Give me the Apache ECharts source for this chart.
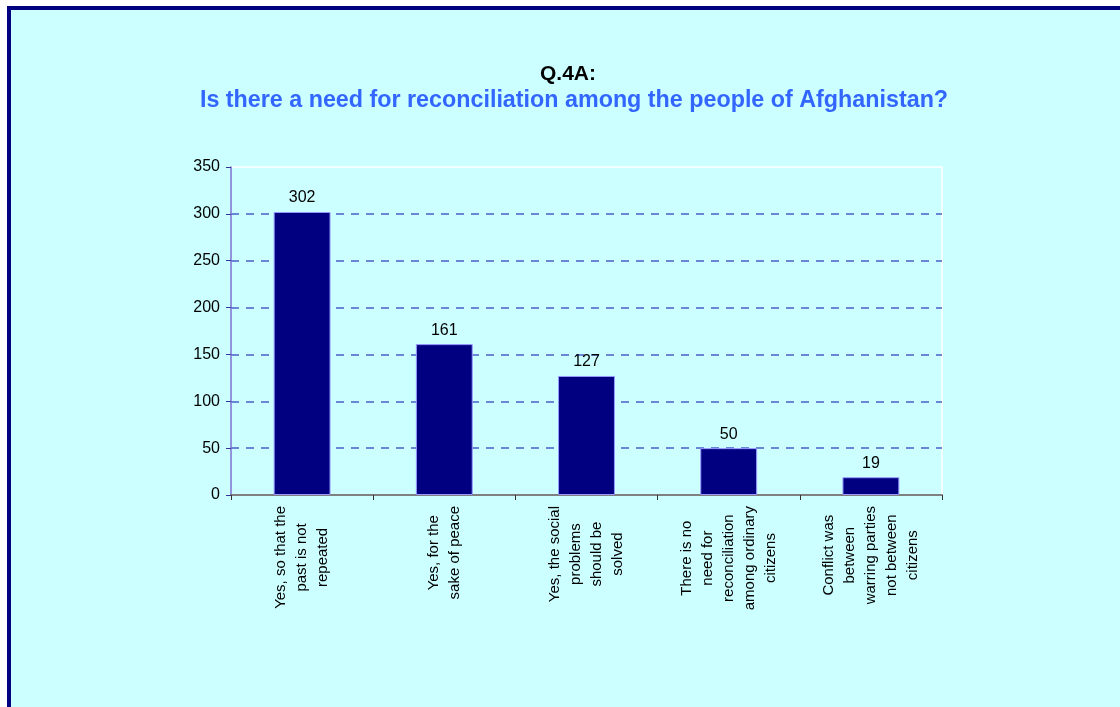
<!DOCTYPE html>
<html>
<head>
<meta charset="utf-8">
<script src="https://cdn.jsdelivr.net/npm/echarts@6/dist/echarts.min.js"></script>
<style>
  html, body { margin: 0; padding: 0; background: #fff; }
  #box {
    position: absolute; left: 7px; top: 6px; width: 1113px; height: 701px;
    box-sizing: border-box; background: #ccffff;
    border-top: 4px solid #000080; border-left: 4px solid #000080;
  }
  #chart { position: absolute; left: 0; top: 0; width: 1120px; height: 707px; }
</style>
</head>
<body>
<div id="box"></div>
<div id="chart"></div>
<script>
// categories, one entry per line of the rotated label
const categories = [
    ['Yes, so that the', 'past is not', 'repeated'],
    ['Yes, for the', 'sake of peace'],
    ['Yes, the social', 'problems', 'should be', 'solved'],
    ['There is no', 'need for', 'reconciliation', 'among ordinary', 'citizens'],
    ['Conflict was', 'between', 'warring parties', 'not between', 'citizens']
]
const counts = [302, 161, 127, 50, 19]
const yTicks = {min: 0, max: 350, step: 50}

const font = 'Liberation Sans, Arial, sans-serif'
const chart = echarts.init(document.getElementById('chart'))

const option = {
    backgroundColor: 'transparent',
    animation: false,
    title: [
        {
            text: 'Q.4A:',
            left: 563,
            top: 59,
            textAlign: 'center',
            textStyle: {fontFamily: font, fontSize: 21, fontWeight: 'bold', color: '#000'}
        },
        {
            text: 'Is there a need for reconciliation among the people of Afghanistan?',
            left: 569,
            top: 84,
            textAlign: 'center',
            textStyle: {fontFamily: font, fontSize: 23.3, fontWeight: 'bold', color: '#3366ff'}
        }
    ],
    grid: {
        left: 231,
        right: 178,
        top: 167,
        bottom: 212,
        show: true,
        backgroundColor: 'transparent',
        borderColor: '#ffffff',
        borderWidth: 1.5
    },
    xAxis: {
        type: 'category',
        data: categories.map(c => c.join('\n')),
        axisLine: {lineStyle: {color: '#808080', width: 2}},
        axisTick: {show: true, length: 5, lineStyle: {color: '#333333'}},
        axisLabel: {
            rotate: 90,
            margin: 11,
            interval: 0,
            formatter: function (v) {
                return v.split('\n').map(l => '{c|' + l + '}').join('\n')
            },
            rich: {
                c: {align: 'center', fontFamily: font, fontSize: 15, lineHeight: 21, color: '#000'}
            }
        }
    },
    yAxis: {
        type: 'value',
        min: yTicks.min,
        max: yTicks.max,
        interval: yTicks.step,
        axisLine: {show: true, lineStyle: {color: '#7070d0', width: 1.5}},
        axisTick: {show: true, length: 5, lineStyle: {color: '#333399'}},
        axisLabel: {margin: 11, fontFamily: font, fontSize: 16, color: '#000'},
        splitLine: {
            show: true,
            showMaxLine: false,
            lineStyle: {color: '#4b5fc8', type: [8, 7], width: 1.5}
        }
    },
    series: [
        {
            type: 'bar',
            data: counts,
            barWidth: '40%',
            itemStyle: {color: '#000080', borderColor: '#9999ff', borderWidth: 1},
            label: {
                show: true,
                position: 'top',
                distance: 6,
                fontFamily: font,
                fontSize: 16,
                color: '#000'
            }
        }
    ]
}
chart.setOption(option)
</script>
</body>
</html>
